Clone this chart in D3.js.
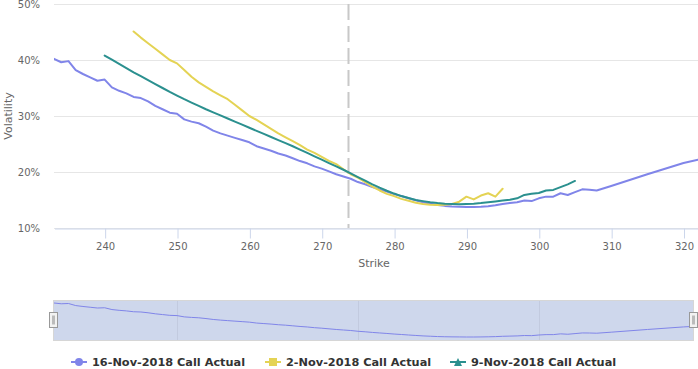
<!DOCTYPE html>
<html>
<head>
<meta charset="utf-8">
<script src="https://cdn.jsdelivr.net/npm/d3@7"></script>
<style>
  body { margin: 0; background: #fff; }
  svg { display: block; font-family: "DejaVu Sans", sans-serif; }
</style>
</head>
<body>
<div id="chart"></div>
<script>
// DATA

var yTicks = [10, 20, 30, 40, 50];
var xTicks = [240, 250, 260, 270, 280, 290, 300, 310, 320];
var navTicks = [250, 275, 300];
var spotStrike = 273.7;

var seriesNames = ["16-Nov-2018 Call Actual", "2-Nov-2018 Call Actual", "9-Nov-2018 Call Actual"];
var seriesColors = ["#8085e9", "#e4d354", "#2b908f"];

// 16-Nov
var strikes16 = [233, 234, 235, 236, 237, 238, 239, 240, 241, 242, 243, 244, 245, 246, 247, 248, 249, 250,
    251, 252, 253, 254, 255, 256, 257, 258, 259, 260, 261, 262, 263, 264, 265, 266, 267, 268, 269, 270,
    271, 272, 273, 274, 275, 276, 277, 278, 279, 280, 281, 282, 283, 284, 285, 286, 287, 288, 289, 290,
    291, 292, 293, 294, 295, 296, 297, 298, 299, 300, 301, 302, 303, 304, 305, 306, 307, 308,
    310, 315, 320, 322];
var vols16 = [40.2, 39.6, 39.8, 38.2, 37.5, 36.9, 36.3, 36.5, 35.1, 34.5, 34.05, 33.4, 33.2, 32.6, 31.8, 31.2, 30.6, 30.4,
    29.4, 29.0, 28.7, 28.1, 27.4, 26.9, 26.5, 26.1, 25.7, 25.3, 24.6, 24.2, 23.8, 23.3, 22.95, 22.45, 21.95, 21.55, 21.0, 20.6,
    20.1, 19.6, 19.2, 18.8, 18.2, 17.8, 17.3, 16.9, 16.5, 16.05, 15.7, 15.3, 14.95, 14.6, 14.35, 14.1, 13.95, 13.85, 13.8, 13.75,
    13.75, 13.8, 13.9, 14.05, 14.3, 14.45, 14.6, 14.9, 14.8, 15.3, 15.6, 15.6, 16.2, 15.9, 16.4, 16.9, 16.85, 16.7,
    17.5, 19.6, 21.6, 22.2];

// 2-Nov
var strikes2 = [244, 245, 246, 247, 248, 249, 250, 251, 252, 253, 254, 255, 256, 257, 258, 259, 260, 261, 262, 263,
    264, 265, 266, 267, 268, 269, 270, 271, 272, 273, 274, 275, 276, 277, 278, 279, 280, 281, 282, 283,
    284, 285, 286, 287, 288, 289, 290, 291, 292, 293, 294, 295];
var vols2 = [45.1, 44.0, 43.0, 42.0, 41.0, 40.0, 39.4, 38.2, 37.0, 36.0, 35.2, 34.4, 33.7, 33.0, 32.0, 31.0, 30.0, 29.3, 28.5, 27.7,
    26.9, 26.2, 25.5, 24.8, 24.0, 23.4, 22.7, 22.0, 21.4, 20.5, 19.6, 19.0, 18.2, 17.4, 16.7, 16.1, 15.7, 15.2, 14.85, 14.5,
    14.3, 14.15, 14.1, 14.15, 14.3, 14.7, 15.6, 15.1, 15.8, 16.2, 15.6, 17.0];

// 9-Nov
var strikes9 = [240, 241, 242, 243, 244, 245, 246, 247, 248, 249, 250, 251, 252, 253, 254, 255, 256, 257, 258, 259,
    260, 261, 262, 263, 264, 265, 266, 267, 268, 269, 270, 271, 272, 273, 274, 275, 276, 277, 278, 279,
    280, 281, 282, 283, 284, 285, 286, 287, 288, 289, 290, 291, 292, 293, 294, 295, 296, 297, 298, 299,
    300, 301, 302, 303, 304, 305];
var vols9 = [40.8, 40.05, 39.3, 38.55, 37.8, 37.1, 36.4, 35.7, 35.0, 34.3, 33.65, 33.0, 32.4, 31.8, 31.2, 30.65, 30.1, 29.55, 29.0, 28.45,
    27.9, 27.35, 26.8, 26.25, 25.7, 25.15, 24.6, 24.0, 23.4, 22.8, 22.2, 21.6, 21.0, 20.4, 19.75, 19.1, 18.45, 17.8, 17.2, 16.65,
    16.15, 15.7, 15.35, 15.0, 14.8, 14.6, 14.45, 14.35, 14.3, 14.25, 14.3, 14.35, 14.45, 14.6, 14.75, 14.9, 15.05, 15.3, 15.9, 16.1,
    16.25, 16.7, 16.8, 17.3, 17.8, 18.4];

// CHART

var width = 698;
var height = 369;

var svg = d3.select("#chart")
    .append("svg")
    .attr("width", width)
    .attr("height", height);

var x = d3.scaleLinear()
    .domain([233, 322])
    .range([54, 698]);

var y = d3.scaleLinear()
    .domain([10, 50])
    .range([228, 4]);

function pairs(xs, ys) {
    return xs.map(function (s, i) { return [s, ys[i]]; });
}

var series = [pairs(strikes16, vols16), pairs(strikes2, vols2), pairs(strikes9, vols9)];

// grid
svg.append("g")
    .selectAll("line")
    .data(yTicks)
    .enter()
    .append("line")
    .attr("x1", 54)
    .attr("x2", 698)
    .attr("y1", function (d) { return y(d) + 0.5; })
    .attr("y2", function (d) { return y(d) + 0.5; })
    .style("stroke", "#e6e6e6");

// y axis labels
var yAxis = svg.append("g")
    .attr("transform", "translate(54,0.5)")
    .call(d3.axisLeft(y).tickValues(yTicks).tickSize(0).tickPadding(14)
        .tickFormat(function (d) { return d + "%"; }));
yAxis.select(".domain").remove();
yAxis.selectAll("text")
    .style("font-family", "DejaVu Sans")
    .style("font-size", "10px")
    .style("fill", "#666");

// x axis
var xAxis = svg.append("g")
    .attr("transform", "translate(0.5,228.5)")
    .call(d3.axisBottom(x).tickValues(xTicks).tickSize(10).tickPadding(4).tickSizeOuter(0));
xAxis.select(".domain").style("stroke", "#ccd6eb");
xAxis.selectAll("line").style("stroke", "#ccd6eb");
xAxis.selectAll("text")
    .style("font-family", "DejaVu Sans")
    .style("font-size", "10px")
    .style("fill", "#666");

// axis titles
svg.append("text")
    .attr("x", 374)
    .attr("y", 267)
    .attr("text-anchor", "middle")
    .style("font-size", "11px")
    .style("fill", "#666")
    .text("Strike");

svg.append("text")
    .attr("transform", "translate(12,116) rotate(-90)")
    .attr("text-anchor", "middle")
    .style("font-size", "11px")
    .style("fill", "#666")
    .text("Volatility");

// spot plot line
svg.append("line")
    .attr("x1", x(spotStrike))
    .attr("x2", x(spotStrike))
    .attr("y1", 4)
    .attr("y2", 228)
    .style("stroke", "#c8c8c8")
    .style("stroke-width", 2)
    .style("stroke-dasharray", "16,6");

// lines
var line = d3.line()
    .x(function (d) { return x(d[0]); })
    .y(function (d) { return y(d[1]); });

svg.append("defs").append("clipPath")
    .attr("id", "plotclip")
    .append("rect")
    .attr("x", 54).attr("y", 0).attr("width", 644).attr("height", 240);

var drawOrder = [0, 1, 2];
drawOrder.forEach(function (i) {
    svg.append("path")
        .datum(series[i])
        .attr("clip-path", "url(#plotclip)")
        .attr("d", line)
        .style("fill", "none")
        .style("stroke", seriesColors[i])
        .style("stroke-width", 2)
        .style("stroke-linejoin", "round")
        .style("stroke-linecap", "round");
});

// NAVIGATOR

var nx = d3.scaleLinear()
    .domain([233, 321.3])
    .range([54, 693]);

var ny = d3.scaleLinear()
    .domain([13.75, 40.2])
    .range([337, 303]);

svg.append("rect")
    .attr("x", 53.5)
    .attr("y", 300.5)
    .attr("width", 640)
    .attr("height", 40)
    .style("fill", "rgb(206,215,236)")
    .style("stroke", "#d6d6d6");

svg.append("g")
    .selectAll("line")
    .data(navTicks)
    .enter()
    .append("line")
    .attr("x1", function (d) { return Math.round(nx(d)) + 0.5; })
    .attr("x2", function (d) { return Math.round(nx(d)) + 0.5; })
    .attr("y1", 301)
    .attr("y2", 340)
    .style("stroke", "#c2cadf");

svg.append("path")
    .datum(series[0])
    .attr("d", d3.line()
        .x(function (d) { return nx(d[0]); })
        .y(function (d) { return ny(d[1]); }))
    .style("fill", "none")
    .style("stroke", seriesColors[0])
    .style("stroke-width", 1);

[49.5, 689.5].forEach(function (hx) {
    svg.append("rect")
        .attr("x", hx)
        .attr("y", 312.5)
        .attr("width", 8)
        .attr("height", 15)
        .style("fill", "#f2f2f2")
        .style("stroke", "#999");
    svg.append("rect")
        .attr("x", hx + 2.5)
        .attr("y", 315.5)
        .attr("width", 3)
        .attr("height", 9)
        .style("fill", "#bbb");
});

// LEGEND

var legendX = [71, 265, 450];
var legendY = 362;

var legend = svg.append("g");

seriesNames.forEach(function (name, i) {
    var g = legend.append("g").attr("transform", "translate(" + legendX[i] + "," + legendY + ")");
    g.append("line")
        .attr("x1", 0).attr("x2", 16)
        .attr("y1", 0).attr("y2", 0)
        .style("stroke", seriesColors[i])
        .style("stroke-width", 2);
    if (i == 0) {
        g.append("circle").attr("cx", 8).attr("cy", 0).attr("r", 4).style("fill", seriesColors[i]);
    } else if (i == 1) {
        g.append("rect").attr("x", 4).attr("y", -4).attr("width", 8).attr("height", 8).style("fill", seriesColors[i]);
    } else {
        g.append("path").attr("d", "M8,-4L12,4L4,4Z").style("fill", seriesColors[i]);
    }
    g.append("text")
        .attr("x", 21)
        .attr("y", 4)
        .style("font-size", "11.3px")
        .style("font-weight", "bold")
        .style("fill", "#333")
        .text(name);
});
</script>
</body>
</html>
